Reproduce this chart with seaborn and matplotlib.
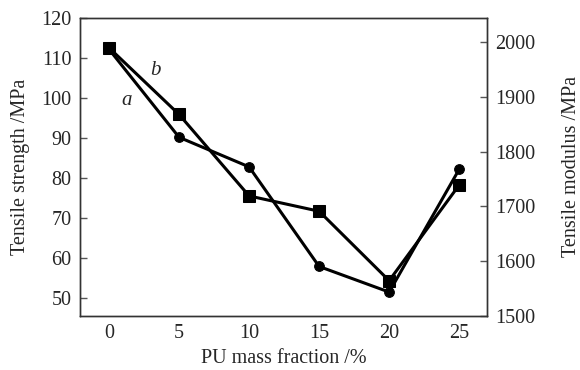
import matplotlib
matplotlib.use("Agg")
import matplotlib.pyplot as plt
import seaborn as sns
import pandas as pd

# PU mass fraction (%) and the two measured curves
pu_fraction = [0, 5, 10, 15, 20, 25]
strength_a = [112.1, 90.1, 82.7, 57.8, 51.4, 82.1]        # curve a, left axis (MPa)
modulus_b = [1990, 1868, 1719, 1691, 1564, 1739]          # curve b, right axis (MPa)

df = pd.DataFrame({'pu': pu_fraction, 'strength': strength_a, 'modulus': modulus_b})

sns.set_style('white')
plt.rcParams['font.family'] = ['Liberation Serif', 'DejaVu Serif']

fig = plt.figure(figsize=(5.8, 3.7), dpi=100)
ax = fig.add_axes([0.138, 0.1468, 0.702, 0.8054])

sns.lineplot(data=df, x='pu', y='strength', ax=ax, color='black', linewidth=2.2,
             marker='o', markersize=7, markeredgecolor='black')
ax2 = ax.twinx()
sns.lineplot(data=df, x='pu', y='modulus', ax=ax2, color='black', linewidth=2.2,
             marker='s', markersize=8, markeredgecolor='black')

ax.set_xlim(-2.07, 27)
ax.set_ylim(45.5, 120)
ax2.set_ylim(1500, 2045)
ax.set_xticks(pu_fraction)
ax.set_yticks([50, 60, 70, 80, 90, 100, 110, 120])
ax2.set_yticks([1500, 1600, 1700, 1800, 1900, 2000])

for a in (ax, ax2):
    for s in a.spines.values():
        s.set_color('#333333')
        s.set_linewidth(1.0)
        s.set_visible(True)
ax.tick_params(axis='both', direction='in', length=5, width=1, color='#555555',
               labelsize=14.5, pad=6, top=False, right=False)
ax2.tick_params(axis='y', direction='in', length=5, width=1, color='#555555',
                labelsize=14.5, pad=6, left=False, right=True)

ax.set_xlabel('PU mass fraction /%', fontsize=14.5, labelpad=4)
ax.set_ylabel('Tensile strength /MPa', fontsize=14.5, labelpad=8)
ax2.set_ylabel('Tensile modulus /MPa', fontsize=14.5, labelpad=19)

ax.text(1.24, 99.2, 'a', fontsize=15, style='italic', ha='center', va='center')
ax.text(3.3, 106.75, 'b', fontsize=15, style='italic', ha='center', va='center')

fig.savefig('out.png', dpi=100)
